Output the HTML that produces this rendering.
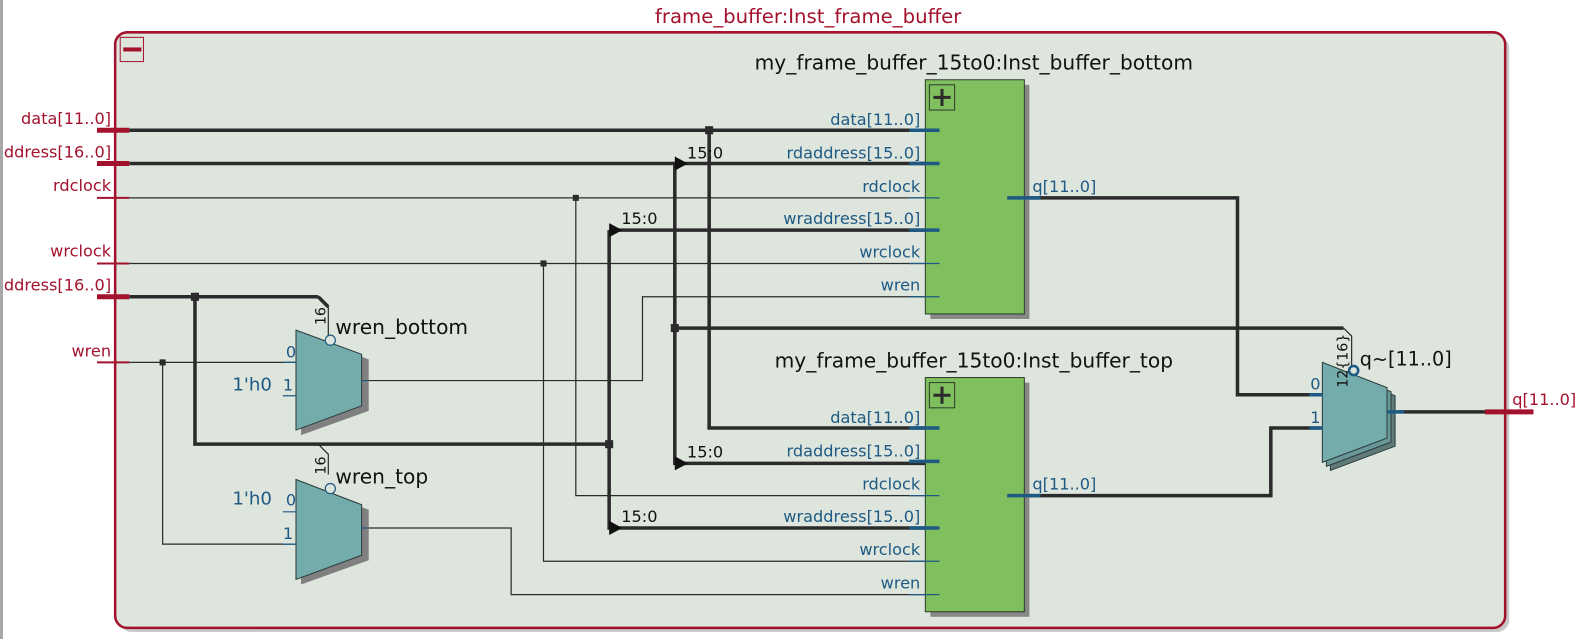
<!DOCTYPE html>
<html><head><meta charset="utf-8"><style>
html,body{margin:0;padding:0;background:#fff;overflow:hidden}
svg{display:block}
text{font-family:"DejaVu Sans","Liberation Sans",sans-serif}
.red{fill:#a3122d;font-size:16px}
.blu{fill:#1e5a84;font-size:16px}
.blk{fill:#111;font-size:20px}
.bus{stroke:#2b2b2b;stroke-width:3.5;fill:none}
.th{stroke:#2b2b2b;stroke-width:1.2;fill:none}
.pb{stroke:#1e5a84;stroke-width:3.5}
.pt{stroke:#1e5a84;stroke-width:1.2}
</style></head><body>
<svg width="1586" height="639" viewBox="0 0 1570 633" preserveAspectRatio="none" xmlns="http://www.w3.org/2000/svg">
<rect x="0" y="0" width="3" height="633" fill="#a8a8a8"/>
<text x="800" y="23" class="red" text-anchor="middle" style="font-size:19.5px">frame_buffer:Inst_frame_buffer</text>
<rect x="118" y="36" width="1376" height="590" rx="12" fill="#c8c8c8"/>
<rect x="114" y="32" width="1376" height="590" rx="12" fill="#dde5dd" stroke="#a3122d" stroke-width="2.5"/>
<rect x="119" y="37" width="23" height="24" fill="none" stroke="#a3122d" stroke-width="1"/>
<rect x="122" y="47" width="18" height="4" fill="#a3122d"/>

<g class="red" text-anchor="end">
<text x="110" y="123">data[11..0]</text>
<text x="110" y="156">ddress[16..0]</text>
<text x="110" y="189">rdclock</text>
<text x="110" y="254">wrclock</text>
<text x="110" y="288">ddress[16..0]</text>
<text x="110" y="353">wren</text>
</g>

<path class="bus" d="M128 129H930 M702 129V424H930"/>
<path class="bus" d="M128 162H930 M668 162V459H930"/>
<path class="th" d="M128 196H930 M570 196V491H930"/>
<path class="bus" d="M603 228H930 M603 228V523H930"/>
<path class="th" d="M128 261H930 M538 261V556H930"/>
<path class="bus" d="M128 294H315 M193 294V440H603 M315 294L325 304"/>
<path class="th" d="M325 304V333"/>
<path class="th" d="M315 440L325 450V470"/>
<path class="th" d="M128 359H293 M161 359V539H293"/>
<path class="th" d="M360 377H636V294H930"/>
<path class="th" d="M360 523H506V589H930"/>
<path class="bus" d="M997 196H1225V391H1307"/>
<path class="bus" d="M997 491H1258V424H1307"/>
<path class="bus" d="M668 325H1330"/>
<path class="th" d="M1330 325L1338 333V363"/>
<path class="bus" d="M1385 408H1490"/>
<g fill="#2b2b2b">
<rect x="698" y="125" width="8" height="8"/>
<rect x="664" y="321" width="8" height="8"/>
<rect x="599" y="436" width="8" height="8"/>
<rect x="189" y="290" width="8" height="8"/>
<rect x="567" y="193" width="6" height="6"/>
<rect x="535" y="258" width="6" height="6"/>
<rect x="158" y="356" width="6" height="6"/>
</g>
<g fill="#111">
<path d="M668 155L681 162L668 169Z"/>
<path d="M668 452L681 459L668 466Z"/>
<path d="M603 221L616 228L603 235Z"/>
<path d="M603 516L616 523L603 530Z"/>
</g>
<g class="blk" style="font-size:16px">
<text x="680" y="157">15:0</text>
<text x="680" y="453">15:0</text>
<text x="615" y="222">15:0</text>
<text x="615" y="517">15:0</text>
</g>
<g stroke="#a3122d">
<path d="M96 129H128 M96 162H128 M96 294H128" stroke-width="5"/>
<path d="M96 196H128 M96 261H128 M96 359H128" stroke-width="2"/>
<path d="M1470 408H1518" stroke-width="5"/>
</g>
<text x="1497" y="401" class="red">q[11..0]</text>

<path d="M298 332L365 356V407L298 431Z" fill="#808080"/>
<path d="M293 327L358 351V402L293 426Z" fill="#74abab" stroke="#2b3b3b" stroke-width="1"/>
<path class="pt" d="M280 359H293 M280 392H293 M358 377H365"/>
<circle cx="327" cy="337" r="5" fill="#dde5dd" stroke="#1e5a84" stroke-width="1.2"/>
<text x="283" y="354" class="blu">0</text>
<text x="280" y="387" class="blu">1</text>
<text x="230" y="387" class="blu" style="font-size:18px">1'h0</text>
<text x="0" y="0" class="blk" style="font-size:14px" transform="translate(322,322) rotate(-90)">16</text>
<text x="332" y="331" class="blk">wren_bottom</text>

<path d="M298 480L365 505V555L298 579Z" fill="#808080"/>
<path d="M293 475L358 500V550L293 574Z" fill="#74abab" stroke="#2b3b3b" stroke-width="1"/>
<path class="pt" d="M280 507H293 M280 539H293 M358 523H365"/>
<circle cx="327" cy="484" r="5" fill="#dde5dd" stroke="#1e5a84" stroke-width="1.2"/>
<text x="283" y="501" class="blu">0</text>
<text x="280" y="534" class="blu">1</text>
<text x="230" y="500" class="blu" style="font-size:18px">1'h0</text>
<text x="0" y="0" class="blk" style="font-size:14px" transform="translate(322,470) rotate(-90)">16</text>
<text x="332" y="479" class="blk">wren_top</text>

<path d="M1317 367L1381 392V442L1317 466Z" fill="#607a7a" stroke="#2b3b3b" stroke-width="1"/>
<path d="M1313 363L1377 388V438L1313 462Z" fill="#6a9898" stroke="#2b3b3b" stroke-width="1"/>
<path d="M1309 359L1373 384V434L1309 458Z" fill="#74abab" stroke="#2b3b3b" stroke-width="1"/>
<path class="pb" d="M1296 391H1309 M1296 424H1309 M1373 408H1390"/>
<circle cx="1340" cy="367" r="4.5" fill="#dde5dd" stroke="#1e5a84" stroke-width="2.5"/>
<text x="1297" y="386" class="blu">0</text>
<text x="1297" y="419" class="blu">1</text>
<text x="0" y="0" class="blk" style="font-size:14px" transform="translate(1334,384) rotate(-90)">12{16}</text>
<text x="1346" y="362" class="blk" style="font-size:19px">q~[11..0]</text>

<g>
<text x="964" y="69" class="blk" text-anchor="middle">my_frame_buffer_15to0:Inst_buffer_bottom</text>
<rect x="921" y="84" width="98" height="232" fill="#888"/>
<rect x="916" y="79" width="98" height="232" fill="#80bf5e" stroke="#2b3b2b" stroke-width="1"/>
<rect x="920" y="84" width="25" height="25" fill="none" stroke="#2b3b2b" stroke-width="1"/>
<path d="M932.5 88V105 M924 96.5H941" stroke="#2b2b2b" stroke-width="3"/>
<g class="blu" text-anchor="end">
<text x="911" y="124">data[11..0]</text>
<text x="911" y="157">rdaddress[15..0]</text>
<text x="911" y="190">rdclock</text>
<text x="911" y="222">wraddress[15..0]</text>
<text x="911" y="255">wrclock</text>
<text x="911" y="288">wren</text>
<text x="1022" y="190" text-anchor="start">q[11..0]</text>
</g>
<path class="pb" d="M900 129H930 M900 162H930 M900 228H930 M997 196H1030"/>
<path class="pt" d="M900 196H930 M900 261H930 M900 294H930"/>
</g>
<g transform="translate(0,295)">
<text x="964" y="69" class="blk" text-anchor="middle">my_frame_buffer_15to0:Inst_buffer_top</text>
<rect x="921" y="84" width="98" height="232" fill="#888"/>
<rect x="916" y="79" width="98" height="232" fill="#80bf5e" stroke="#2b3b2b" stroke-width="1"/>
<rect x="920" y="84" width="25" height="25" fill="none" stroke="#2b3b2b" stroke-width="1"/>
<path d="M932.5 88V105 M924 96.5H941" stroke="#2b2b2b" stroke-width="3"/>
<g class="blu" text-anchor="end">
<text x="911" y="124">data[11..0]</text>
<text x="911" y="157">rdaddress[15..0]</text>
<text x="911" y="190">rdclock</text>
<text x="911" y="222">wraddress[15..0]</text>
<text x="911" y="255">wrclock</text>
<text x="911" y="288">wren</text>
<text x="1022" y="190" text-anchor="start">q[11..0]</text>
</g>
<path class="pb" d="M900 129H930 M900 162H930 M900 228H930 M997 196H1030"/>
<path class="pt" d="M900 196H930 M900 261H930 M900 294H930"/>
</g>
</svg>
</body></html>
